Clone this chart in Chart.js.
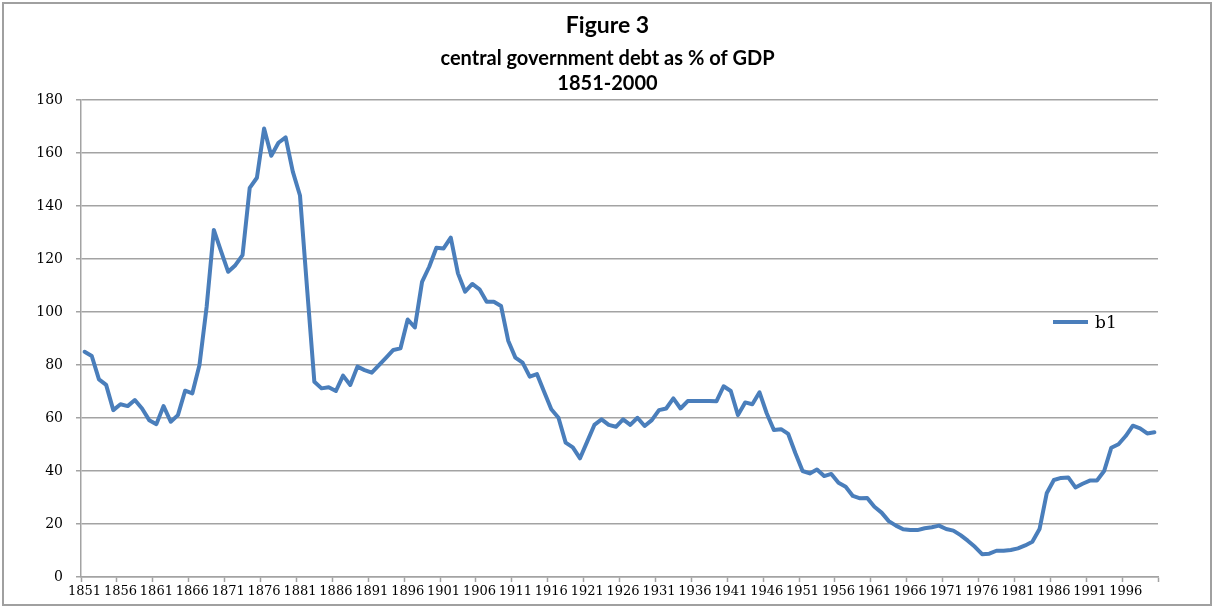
<!DOCTYPE html>
<html>
<head>
    <title>Figure 3</title>
    <script src="https://cdn.jsdelivr.net/npm/chart.js"></script>
    <style>
        body {
            margin: 0;
            background: #fff;
            overflow: hidden;
        }
        .chart-container {
            position: relative;
            width: 1215px;
            height: 608px;
        }
    </style>
</head>
<body>
    <div class="chart-container">
        <canvas id="debtChart"></canvas>
    </div>

    <script>
        // Years 1851-2000 on the category axis
        const firstYear = 1851;
        const lastYear = 2000;
        const years = [];
        for (let y = firstYear; y <= lastYear; y++) {
            years.push(String(y));
        }

        // Central government debt, % of GDP, one value per year
        const debtPct = [
            85.0, 83.4, 74.6, 72.5, 63.0, 65.2, 64.5, 66.8, 63.6, 59.2,
            57.7, 64.5, 58.6, 61.1, 70.3, 69.3, 80.0, 102.0, 131.0, 123.0,
            115.2, 117.7, 121.5, 146.9, 150.7, 169.3, 159.0, 163.9, 165.9, 153.0,
            144.0, 108.5, 73.7, 71.2, 71.6, 70.2, 76.0, 72.5, 79.4, 78.1,
            77.1, 80.0, 82.8, 85.7, 86.3, 97.2, 94.2, 111.4, 117.1, 124.3,
            124.0, 128.1, 114.6, 107.7, 110.6, 108.6, 103.9, 103.9, 102.3, 89.2,
            82.8, 80.9, 75.6, 76.6, 69.9, 63.3, 60.1, 50.7, 48.9, 44.8,
            51.1, 57.4, 59.5, 57.4, 56.7, 59.5, 57.4, 60.1, 57.0, 59.2,
            63.0, 63.6, 67.4, 63.6, 66.4, 66.4, 66.4, 66.4, 66.3, 72.0,
            70.2, 61.1, 65.9, 65.2, 69.7, 61.8, 55.5, 55.8, 54.0, 46.7,
            40.0, 39.1, 40.6, 38.1, 38.9, 35.6, 34.1, 30.6, 29.7, 29.8,
            26.5, 24.3, 21.1, 19.4, 18.0, 17.7, 17.7, 18.4, 18.8, 19.4,
            18.1, 17.5, 15.8, 13.7, 11.4, 8.6, 8.8, 9.9, 9.9, 10.2,
            10.8, 11.9, 13.3, 18.1, 31.6, 36.6, 37.4, 37.6, 33.8, 35.2,
            36.4, 36.4, 40.0, 48.8, 50.1, 53.2, 57.1, 56.1, 54.2, 54.6
        ];

        const seriesName = 'b1';
        const yTicks = { min: 0, max: 180, step: 20 };
        const labelEvery = 5;

        const lineColor = '#4a7ebb';
        const gridColor = '#a3a3a3';
        const axisFont = 'DejaVu Serif';
        const titleFont = 'Lato';

        // Gray frame round the whole figure
        const framePlugin = {
            id: 'frame',
            beforeDraw(chart) {
                const c = chart.ctx;
                c.save();
                c.fillStyle = '#fff';
                c.fillRect(0, 0, chart.width, chart.height);
                c.strokeStyle = '#a0a0a0';
                c.lineWidth = 2;
                c.strokeRect(3, 3, chart.width - 7, chart.height - 6);
                c.restore();
            }
        };

        // Legend key sitting inside the right part of the plot
        const keyPlugin = {
            id: 'key',
            afterDraw(chart) {
                const c = chart.ctx;
                const area = chart.chartArea;
                const ds = chart.data.datasets[0];
                const x = area.right - 105;
                const y = 322;
                c.save();
                c.strokeStyle = ds.borderColor;
                c.lineWidth = 4;
                c.beginPath();
                c.moveTo(x, y);
                c.lineTo(x + 35, y);
                c.stroke();
                c.fillStyle = '#000';
                c.font = '17px "' + axisFont + '"';
                c.textBaseline = 'middle';
                c.fillText(ds.label, x + 42, y + 2);
                c.restore();
            }
        };

        const ctx = document.getElementById('debtChart').getContext('2d');
        const chart = new Chart(ctx, {
            type: 'line',
            data: {
                labels: years,
                datasets: [{
                    label: seriesName,
                    data: debtPct,
                    borderColor: lineColor,
                    borderWidth: 4,
                    borderJoinStyle: 'round',
                    borderCapStyle: 'round',
                    pointRadius: 0,
                    tension: 0,
                    fill: false
                }]
            },
            options: {
                responsive: true,
                maintainAspectRatio: false,
                animation: false,
                layout: {
                    padding: 0
                },
                plugins: {
                    legend: { display: false },
                    tooltip: { enabled: false },
                    title: {
                        display: true,
                        text: 'Figure 3',
                        color: '#000',
                        font: { family: titleFont, size: 23, weight: 'bold' },
                        padding: { top: 12, bottom: 0 }
                    },
                    subtitle: {
                        display: true,
                        text: ['central government debt as % of GDP', '1851-2000'],
                        color: '#000',
                        font: { family: titleFont, size: 20, weight: 'bold', lineHeight: 1.25 },
                        padding: { top: 6, bottom: 4.5 }
                    }
                },
                scales: {
                    x: {
                        type: 'category',
                        offset: true,
                        afterFit(scale) { scale.height = 31; },
                        grid: {
                            offset: true,
                            drawOnChartArea: false,
                            drawTicks: true,
                            tickLength: 5,
                            tickWidth: 1.5,
                            tickColor: (c) => (c.index === undefined || c.index % labelEvery === 0) ? gridColor : 'rgba(0,0,0,0)'
                        },
                        border: { display: true, color: gridColor, width: 1.5 },
                        ticks: {
                            autoSkip: false,
                            maxRotation: 0,
                            minRotation: 0,
                            padding: 2,
                            color: '#000',
                            font: { family: axisFont, size: 13 },
                            callback: (v, i) => i % labelEvery === 0 ? years[i] : ''
                        }
                    },
                    y: {
                        min: yTicks.min,
                        max: yTicks.max,
                        afterFit(scale) { scale.width = 81; },
                        grid: {
                            color: gridColor,
                            lineWidth: 1.5,
                            drawTicks: true,
                            tickLength: 5
                        },
                        border: { display: true, color: gridColor, width: 1.5 },
                        ticks: {
                            stepSize: yTicks.step,
                            padding: 13,
                            color: '#000',
                            font: { family: axisFont, size: 14 }
                        }
                    },
                    // empty right-hand box: leaves the gap on the right while
                    // the titles stay centred across the whole figure
                    gap: {
                        type: 'linear',
                        position: 'right',
                        afterFit(scale) { scale.width = 57; },
                        grid: { display: false, drawTicks: false },
                        border: { display: false },
                        ticks: { display: false }
                    }
                }
            },
            plugins: [framePlugin, keyPlugin]
        });
    </script>
</body>
</html>
